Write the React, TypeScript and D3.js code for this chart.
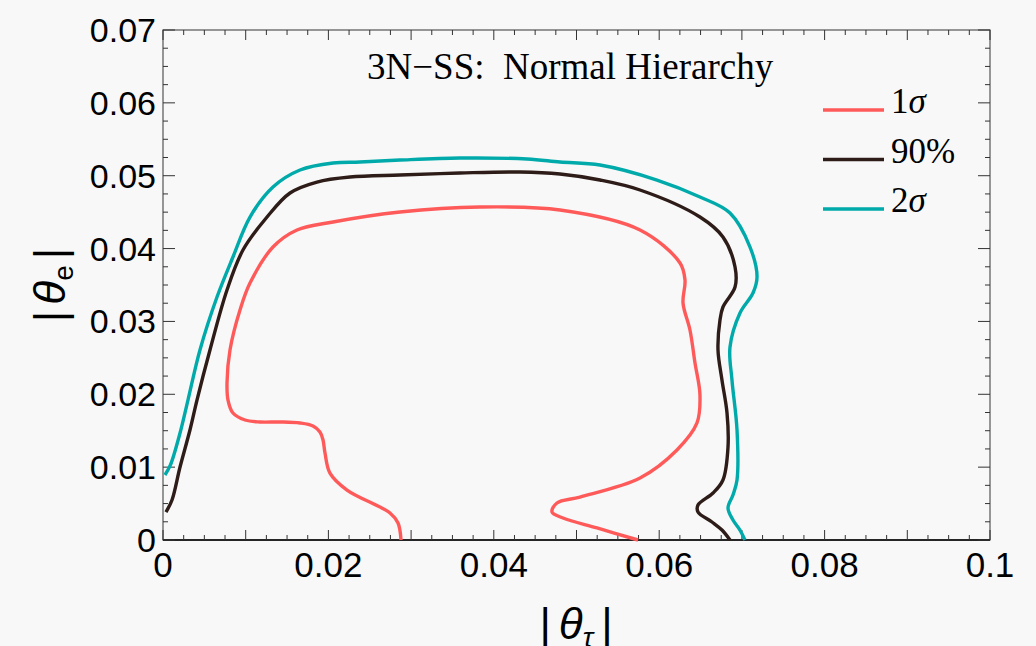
import React from 'react';
import * as d3 from 'd3';

// contour points, |theta_tau| vs |theta_e|
const contour1Sigma: [number, number][] = [
  [0.02878, 0], [0.02842, 0.00233], [0.02745, 0.00371], [0.02225, 0.00686],
  [0.02019, 0.00919], [0.01959, 0.01194], [0.01935, 0.01372], [0.01898, 0.01482],
  [0.01814, 0.01565], [0.01657, 0.01606], [0.01415, 0.0162], [0.01173, 0.0162],
  [0.00992, 0.01647], [0.00846, 0.01743], [0.00786, 0.01921], [0.00774, 0.02155],
  [0.0081, 0.02608], [0.00931, 0.03157], [0.01052, 0.03527], [0.0133, 0.04021],
  [0.0162, 0.04255], [0.02056, 0.04365], [0.02866, 0.04502], [0.03833, 0.0457],
  [0.048, 0.04529], [0.05768, 0.04255], [0.06252, 0.03802], [0.06312, 0.03568],
  [0.06288, 0.03253], [0.06372, 0.02882], [0.06433, 0.02429], [0.06493, 0.0199],
  [0.06457, 0.01606], [0.06215, 0.01235], [0.05768, 0.00851], [0.05042, 0.0059],
  [0.04764, 0.00508], [0.04704, 0.00384], [0.04837, 0.00302], [0.05248, 0.00165],
  [0.05744, 0],
];

const contour90: [number, number][] = [
  [0.00036, 0.00384], [0.00109, 0.00549], [0.00206, 0.01002], [0.00326, 0.0151],
  [0.00411, 0.01921], [0.00568, 0.02608], [0.00774, 0.03431], [0.00967, 0.0398],
  [0.01258, 0.04433], [0.01536, 0.04763], [0.01862, 0.04913], [0.02261, 0.04982],
  [0.02866, 0.0501], [0.03591, 0.05037], [0.04317, 0.05051], [0.048, 0.05023],
  [0.05284, 0.04941], [0.05768, 0.04804], [0.06493, 0.04433], [0.06771, 0.04159],
  [0.06917, 0.03747], [0.06917, 0.03472], [0.06771, 0.03198], [0.06735, 0.03019],
  [0.06711, 0.02608], [0.06759, 0.02196], [0.0682, 0.01743], [0.06832, 0.01276],
  [0.06771, 0.00824], [0.06651, 0.00645], [0.06469, 0.0048], [0.06469, 0.00384],
  [0.06638, 0.00247], [0.06759, 0.00137], [0.06856, 0],
];

const contour2Sigma: [number, number][] = [
  [0.00024, 0.00892], [0.0009, 0.0103], [0.00206, 0.01469], [0.00302, 0.01921],
  [0.00447, 0.02608], [0.00653, 0.03335], [0.00846, 0.03884], [0.01052, 0.04433],
  [0.0133, 0.04845], [0.01657, 0.05078], [0.02056, 0.05174], [0.02382, 0.05188],
  [0.02866, 0.05215], [0.03591, 0.05243], [0.04401, 0.05229], [0.048, 0.05188],
  [0.05284, 0.05147], [0.05973, 0.04941], [0.06493, 0.04708], [0.06856, 0.04488],
  [0.07098, 0.04021], [0.07183, 0.0361], [0.07134, 0.0339], [0.06977, 0.03116],
  [0.06856, 0.02649], [0.0688, 0.02196], [0.06941, 0.0151], [0.06941, 0.00824],
  [0.06892, 0.00618], [0.06832, 0.00439], [0.06892, 0.00274], [0.06977, 0.00137],
  [0.07037, 0],
];

const seriesNames = ['1σ', '90%', '2σ'];
const seriesColors = ['#ff5a5a', '#2d1c18', '#00aaaa'];
const xTickLabels = [0, 0.02, 0.04, 0.06, 0.08, 0.1];
const yTickLabels = [0, 0.01, 0.02, 0.03, 0.04, 0.05, 0.06, 0.07];

const W = 1036;
const H = 646;
const L = 163, R = 990, T = 30, B = 540;

export default function App() {
  const x = d3.scaleLinear().domain([0, 0.1]).range([L, R]);
  const y = d3.scaleLinear().domain([0, 0.07]).range([B, T]);
  const line = d3
    .line<[number, number]>()
    .x((d) => x(d[0]))
    .y((d) => y(d[1]))
    .curve(d3.curveCatmullRom.alpha(0.5));

  const curves = [contour1Sigma, contour90, contour2Sigma];

  const xMinor = d3.range(0, 0.1 + 1e-9, 0.0025);
  const yMinor = d3.range(0, 0.07 + 1e-9, 0.0025);
  const isMajor = (v: number) => Math.abs(v / 0.01 - Math.round(v / 0.01)) < 1e-6;

  const sans = 'Liberation Sans, Arial, sans-serif';
  const serif = 'Liberation Serif, Times New Roman, serif';

  return (
    <svg width={W} height={H} style={{ position: 'absolute', left: 0, top: 0 }}>
      <rect x={0} y={0} width={W} height={H} fill="#f8f8f8" />

      {/* frame */}
      <rect x={L} y={T} width={R - L} height={B - T} fill="none" stroke="#555" strokeWidth={1.2} />
      <line x1={L} x2={R} y1={B} y2={B} stroke="#000" strokeWidth={1.5} />

      {/* ticks */}
      {xMinor.map((v, i) => {
        const len = isMajor(v) ? 10 : 5;
        return (
          <g key={'xt' + i} stroke="#333" strokeWidth={1}>
            <line x1={x(v)} x2={x(v)} y1={B} y2={B - len} />
            <line x1={x(v)} x2={x(v)} y1={T} y2={T + len} />
          </g>
        );
      })}
      {yMinor.map((v, i) => {
        const len = isMajor(v) ? 12 : 5;
        return (
          <g key={'yt' + i} stroke="#333" strokeWidth={1}>
            <line x1={L} x2={L + len} y1={y(v)} y2={y(v)} />
            <line x1={R} x2={R - len} y1={y(v)} y2={y(v)} />
          </g>
        );
      })}

      {/* tick labels */}
      {xTickLabels.map((v) => (
        <text key={'xl' + v} x={x(v)} y={577} textAnchor="middle" fontFamily={sans} fontSize={35} fill="#000">
          {String(v)}
        </text>
      ))}
      {yTickLabels.map((v) => (
        <text key={'yl' + v} x={156} y={y(v) + 12} textAnchor="end" fontFamily={sans} fontSize={34} fill="#000">
          {String(v)}
        </text>
      ))}

      {/* contours */}
      {curves.map((c, i) => (
        <path key={'c' + i} d={line(c) || ''} fill="none" stroke={seriesColors[i]} strokeWidth={3.4} strokeLinejoin="round" />
      ))}

      {/* title */}
      <text x={367} y={79} fontFamily={serif} fontSize={37} fill="#000" style={{ whiteSpace: 'pre' }}>
        {'3N\u2212SS:  Normal Hierarchy'}
      </text>

      {/* legend */}
      {seriesNames.map((name, i) => {
        const ly = 110 + i * 49.5;
        return (
          <g key={'lg' + i}>
            <line x1={823} x2={884} y1={ly} y2={ly} stroke={seriesColors[i]} strokeWidth={3.4} />
            <text x={891} y={ly + 3} fontFamily={serif} fontSize={35} fill="#000">
              {name.endsWith('σ') ? (
                <>
                  {name[0]}
                  <tspan fontStyle="italic">σ</tspan>
                </>
              ) : (
                name
              )}
            </text>
          </g>
        );
      })}

      {/* axis titles */}
      <text
        transform="translate(65,285) rotate(-90)"
        textAnchor="middle"
        fontFamily={sans}
        fontSize={44}
        fill="#000"
      >
        <tspan>|</tspan>
        <tspan dx={6} fontStyle="italic">θ</tspan>
        <tspan fontSize={28} dy={8}>e</tspan>
        <tspan dx={6} dy={-8}>|</tspan>
      </text>
      <text x={576} y={639} textAnchor="middle" fontFamily={sans} fontSize={44} fill="#000">
        <tspan>|</tspan>
        <tspan dx={8} fontStyle="italic">θ</tspan>
        <tspan fontSize={28} dy={8} fontStyle="italic">τ</tspan>
        <tspan dx={8} dy={-8}>|</tspan>
      </text>
    </svg>
  );
}
